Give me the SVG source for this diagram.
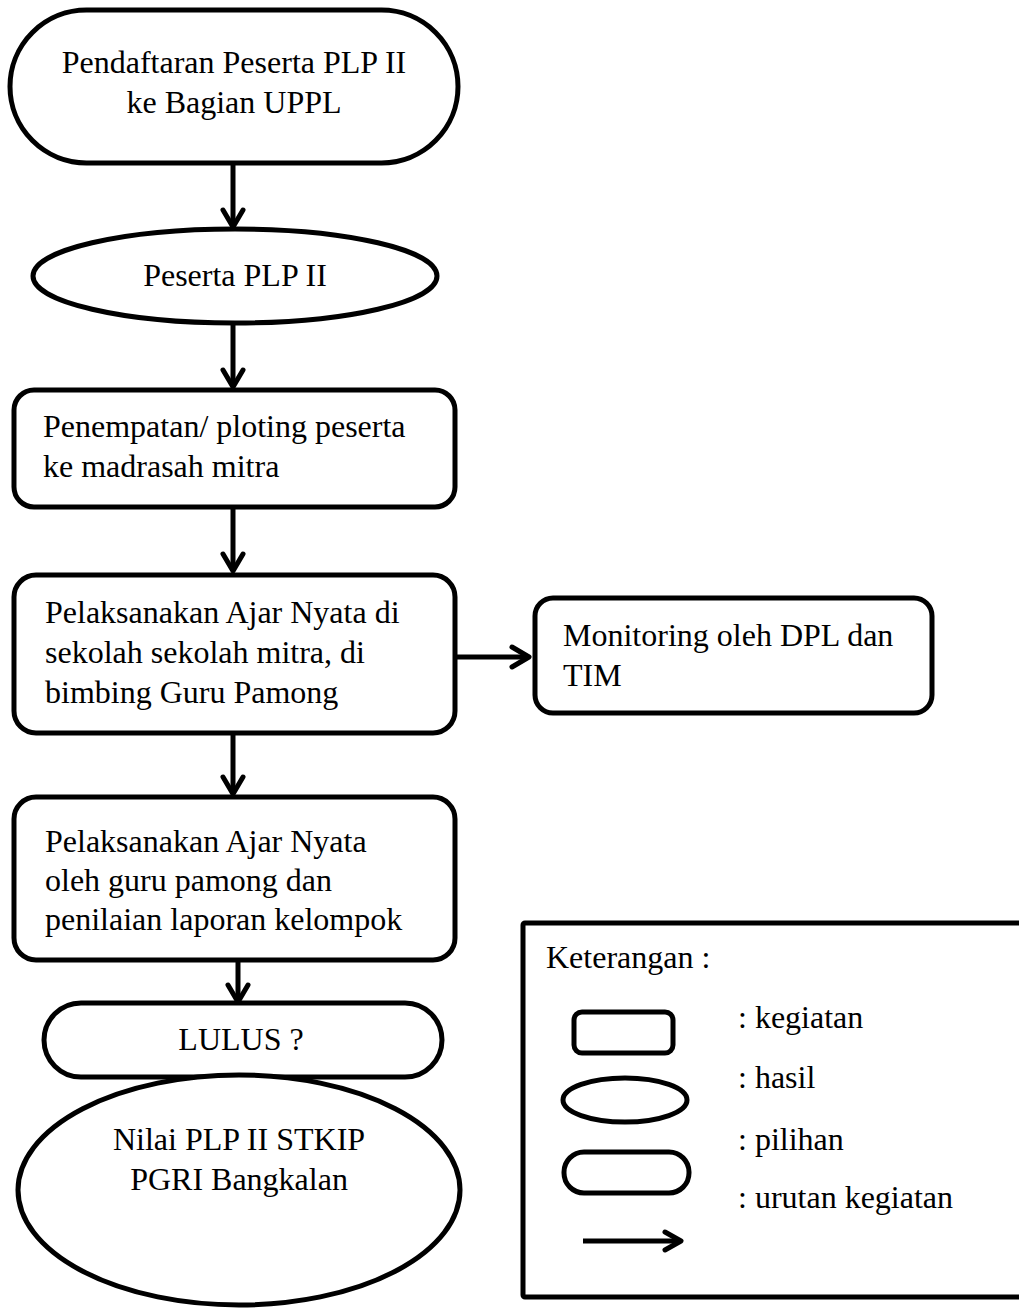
<svg xmlns="http://www.w3.org/2000/svg" width="1019" height="1311" viewBox="0 0 1019 1311">
<style>
.s{fill:#fff;stroke:#000;stroke-width:5}
.t{font-family:"Liberation Serif","Times New Roman",serif;font-size:32px;fill:#000}
.c{stroke:#000;stroke-width:5;fill:none}
.h{stroke:#000;stroke-width:5;fill:none;stroke-linecap:round;stroke-linejoin:round}
</style>
<rect width="1019" height="1311" fill="#fff"/>
<g id="connectors">
<line class="c" x1="233" y1="163" x2="233" y2="226"/><polyline class="h" points="223,210 233,227 243,210"/>
<line class="c" x1="233" y1="323" x2="233" y2="386"/><polyline class="h" points="223,370 233,387 243,370"/>
<line class="c" x1="233" y1="507" x2="233" y2="570"/><polyline class="h" points="223,554 233,571 243,554"/>
<line class="c" x1="233" y1="733" x2="233" y2="793"/><polyline class="h" points="223,777 233,794 243,777"/>
<line class="c" x1="238" y1="960" x2="238" y2="1001"/><polyline class="h" points="228,985 238,1002 248,985"/>
<line class="c" x1="455" y1="657" x2="528" y2="657"/><polyline class="h" points="512,647 529,657 512,667"/>
</g>
<g id="n1"><rect class="s" x="10" y="10" width="448" height="153" rx="76.5"/>
<text class="t" x="234" y="73" text-anchor="middle">Pendaftaran Peserta PLP II</text>
<text class="t" x="234" y="113" text-anchor="middle">ke Bagian UPPL</text></g>
<g id="n2"><ellipse class="s" cx="235" cy="276" rx="202" ry="47"/>
<text class="t" x="235" y="286" text-anchor="middle">Peserta PLP II</text></g>
<g id="n3"><rect class="s" x="14" y="390" width="441" height="117" rx="20"/>
<text class="t" x="43" y="437">Penempatan/ ploting peserta</text>
<text class="t" x="43" y="477">ke madrasah mitra</text></g>
<g id="n4"><rect class="s" x="14" y="575" width="441" height="158" rx="22"/>
<text class="t" x="45" y="623">Pelaksanakan Ajar Nyata di</text>
<text class="t" x="45" y="663">sekolah sekolah mitra, di</text>
<text class="t" x="45" y="703">bimbing Guru Pamong</text></g>
<g id="n5"><rect class="s" x="535" y="598" width="397" height="115" rx="18"/>
<text class="t" x="563" y="646">Monitoring oleh DPL dan</text>
<text class="t" x="563" y="686">TIM</text></g>
<g id="n6"><rect class="s" x="14" y="797" width="441" height="163" rx="22"/>
<text class="t" x="45" y="852">Pelaksanakan Ajar Nyata</text>
<text class="t" x="45" y="891">oleh guru pamong dan</text>
<text class="t" x="45" y="930">penilaian laporan kelompok</text></g>
<g id="n7"><rect class="s" x="44" y="1003" width="398" height="74" rx="37"/>
<text class="t" x="241" y="1050" text-anchor="middle">LULUS ?</text></g>
<g id="n8"><ellipse class="s" cx="239" cy="1190" rx="221" ry="115"/>
<text class="t" x="239" y="1150" text-anchor="middle">Nilai PLP II STKIP</text>
<text class="t" x="239" y="1190" text-anchor="middle">PGRI Bangkalan</text></g>
<g id="legend">
<rect class="s" x="523" y="923" width="510" height="374" rx="2"/>
<text class="t" x="546" y="968">Keterangan :</text>
<rect class="s" x="574" y="1012" width="99" height="41" rx="8"/>
<ellipse class="s" cx="625" cy="1100" rx="62" ry="22"/>
<rect class="s" x="564" y="1152" width="125" height="41" rx="20"/>
<line class="c" x1="583" y1="1241" x2="680" y2="1241"/><polyline class="h" points="665,1232 681,1241 665,1250"/>
<text class="t" x="738" y="1028">: kegiatan</text>
<text class="t" x="738" y="1088">: hasil</text>
<text class="t" x="738" y="1150">: pilihan</text>
<text class="t" x="738" y="1208">: urutan kegiatan</text>
</g>
</svg>
